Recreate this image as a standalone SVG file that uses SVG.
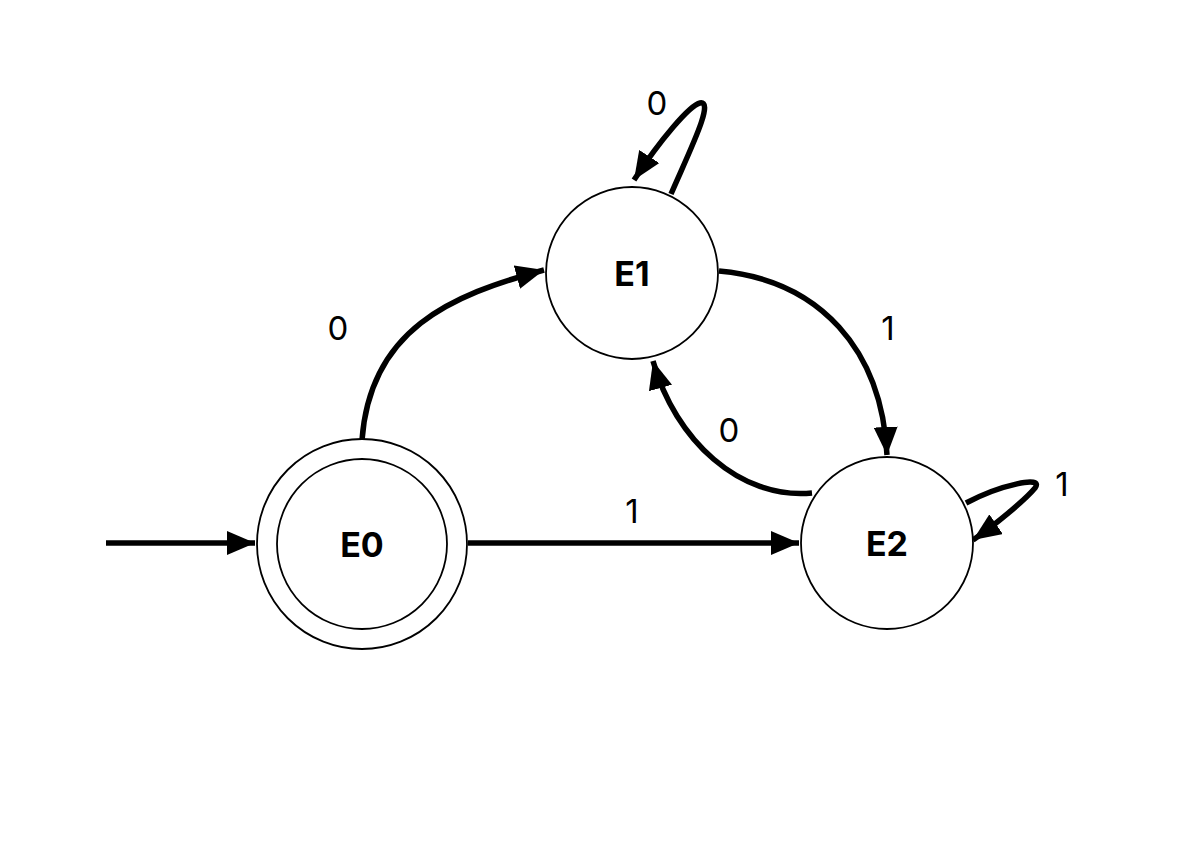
<svg xmlns="http://www.w3.org/2000/svg" width="1198" height="852" viewBox="0 0 1198 852">
<defs>
<style>
.node{fill:#fff;stroke:#000;stroke-width:1.8}
.edge{fill:none;stroke:#000;stroke-width:5.5}
.nl{font-family:Inter,"Noto Sans",sans-serif;font-weight:bold;font-size:34px;text-anchor:middle;dominant-baseline:central}
.el{font-family:Inter,"Noto Sans",sans-serif;font-size:33px;text-anchor:middle;dominant-baseline:central}
</style>
<marker id="ah" markerUnits="userSpaceOnUse" markerWidth="30" markerHeight="24" refX="28" refY="12" orient="auto">
<path d="M0,0 L28,12 L0,24 Z" fill="#000"/>
</marker>
</defs>
<rect width="1198" height="852" fill="#fff"/>
<g id="connectors">
<path class="edge" d="M106,543 L255,543" marker-end="url(#ah)"/>
<path class="edge" d="M362,440 C370,330 450,295 544,270" marker-end="url(#ah)"/>
<path class="edge" d="M468,543 L799,543" marker-end="url(#ah)"/>
<path class="edge" d="M719,271 C820,280 882,350 887,455" marker-end="url(#ah)"/>
<path class="edge" d="M812,493 C740,500 675,440 653,361" marker-end="url(#ah)"/>
<path class="edge" d="M671,194 C690,150 715,100 700,103 C690,105 660,140 634,180" marker-end="url(#ah)"/>
<path class="edge" d="M966,503 C1000,485 1045,475 1035,488 C1025,500 995,525 973,540" marker-end="url(#ah)"/>
<text class="el" x="338" y="328">0</text>
<text class="el" x="632" y="511">1</text>
<text class="el" x="888" y="328">1</text>
<text class="el" x="729" y="430">0</text>
<text class="el" x="657" y="103">0</text>
<text class="el" x="1062" y="484">1</text>
</g>
<g id="E0">
<circle class="node" cx="362" cy="544" r="105"/>
<circle class="node" cx="362" cy="544" r="85"/>
<text class="nl" x="362" y="544">E0</text>
</g>
<g id="E1">
<circle class="node" cx="632" cy="273" r="86"/>
<text class="nl" x="632" y="273">E1</text>
</g>
<g id="E2">
<circle class="node" cx="887" cy="543" r="86"/>
<text class="nl" x="887" y="543">E2</text>
</g>
</svg>
